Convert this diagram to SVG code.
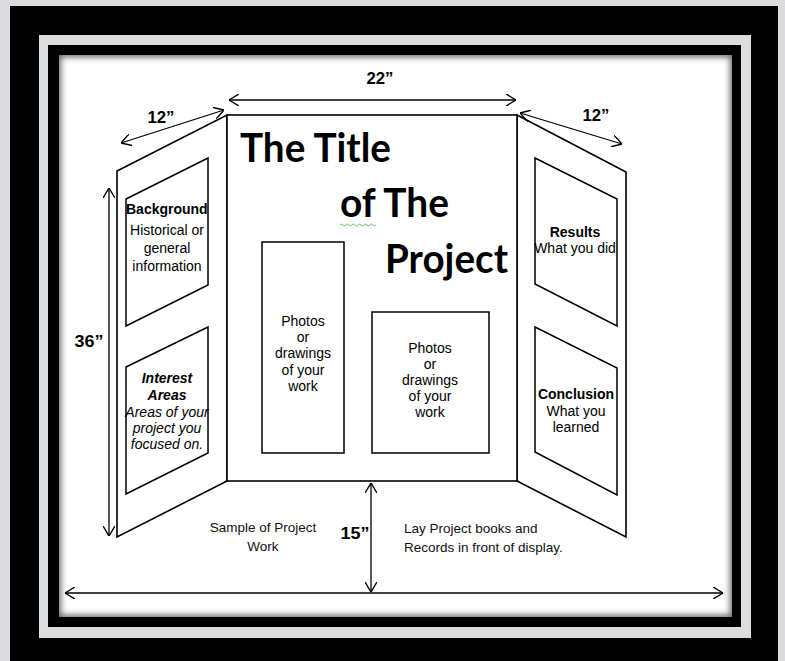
<svg xmlns="http://www.w3.org/2000/svg" width="785" height="661" viewBox="0 0 785 661">
<defs>
<marker id="ah" viewBox="0 0 10 12" refX="10" refY="6" markerWidth="10" markerHeight="12" markerUnits="userSpaceOnUse" orient="auto-start-reverse">
<path d="M0,0 L10,6 L0,12" fill="none" stroke="#000" stroke-width="1.4"/>
</marker>
<clipPath id="wclip"><rect x="59" y="55" width="673" height="562"/></clipPath>
<filter id="blur" x="-5%" y="-5%" width="110%" height="110%"><feGaussianBlur stdDeviation="3"/></filter>
<style>
.ln{fill:#fff;stroke:#000;stroke-width:1.6;stroke-linejoin:miter}
.bx{fill:#fff;stroke:#000;stroke-width:1.5}
.arr{fill:none;stroke:#000;stroke-width:1.3;marker-start:url(#ah);marker-end:url(#ah)}
.t{font-family:"Liberation Sans",Arial,sans-serif;font-size:14px;fill:#000;text-anchor:middle}
.b{font-weight:bold}
.i{font-style:italic}
.dim{font-family:"Liberation Sans",Arial,sans-serif;font-weight:bold;font-size:17px;text-anchor:middle;fill:#000}
.ttl{font-family:"Lato","Open Sans",sans-serif;font-weight:700;font-size:40px;fill:#000}
.note{font-family:"Liberation Sans",Arial,sans-serif;font-size:13.5px;fill:#111}
</style>
</defs>

<g id="frame">
<rect x="0" y="0" width="785" height="661" fill="#dcdcde"/>
<rect x="10" y="6" width="768" height="655" fill="#000"/>
<rect x="39" y="35" width="712" height="603" fill="#dcdddf"/>
<rect x="48" y="45" width="693" height="582" fill="#000"/>
<rect x="59" y="55" width="673" height="562" fill="#fff"/>
<g clip-path="url(#wclip)">
<rect x="57" y="53" width="677" height="566" fill="none" stroke="#666" stroke-width="8" filter="url(#blur)"/>
</g>
</g>

<g id="left-panel">
<polygon class="ln" points="117,171 227,115 227,481 117,537"/>
<g id="background-box">
<polygon class="bx" points="126,199 208,158 208,285 126,326"/>
<text class="t b" x="126" y="214" style="text-anchor:start">Background</text>
<text class="t" x="167" y="235">Historical or</text>
<text class="t" x="167" y="253">general</text>
<text class="t" x="167" y="271">information</text>
</g>
<g id="interest-box">
<polygon class="bx" points="126,367 208,327 208,453 126,494"/>
<text class="t b i" x="167" y="383">Interest</text>
<text class="t b i" x="167" y="400">Areas</text>
<text class="t i" x="167" y="417">Areas of your</text>
<text class="t i" x="167" y="433">project you</text>
<text class="t i" x="167" y="449">focused on.</text>
</g>
</g>

<g id="right-panel">
<polygon class="ln" points="517,115 626,172 626,537 517,481"/>
<g id="results-box">
<polygon class="bx" points="535,158 617,199 617,326 535,284"/>
<text class="t b" x="575" y="237">Results</text>
<text class="t" x="575" y="253">What you did</text>
</g>
<g id="conclusion-box">
<polygon class="bx" points="535,327 617,368 617,495 535,452"/>
<text class="t b" x="576" y="399">Conclusion</text>
<text class="t" x="576" y="416">What you</text>
<text class="t" x="576" y="432">learned</text>
</g>
</g>

<g id="center-panel">
<rect class="ln" x="227" y="115" width="290" height="366"/>
<text class="ttl" x="240" y="162" textLength="151" lengthAdjust="spacingAndGlyphs">The Title</text>
<text class="ttl" x="340" y="217" textLength="109" lengthAdjust="spacingAndGlyphs">of The</text>
<path d="M340,225 q1.5,-2 3,0 t3,0 t3,0 t3,0 t3,0 t3,0 t3,0 t3,0 t3,0 t3,0 t3,0 t3,0" fill="none" stroke="#5fae5f" stroke-width="0.9"/>
<text class="ttl" x="385" y="273" textLength="123" lengthAdjust="spacingAndGlyphs">Project</text>
<g id="photo-box-1">
<rect class="bx" x="262" y="242" width="82" height="211"/>
<text class="t" x="303" y="326">Photos</text>
<text class="t" x="303" y="342">or</text>
<text class="t" x="303" y="358">drawings</text>
<text class="t" x="303" y="375">of your</text>
<text class="t" x="303" y="391">work</text>
</g>
<g id="photo-box-2">
<rect class="bx" x="372" y="312" width="117" height="141"/>
<text class="t" x="430" y="353">Photos</text>
<text class="t" x="430" y="369">or</text>
<text class="t" x="430" y="385">drawings</text>
<text class="t" x="430" y="401">of your</text>
<text class="t" x="430" y="417">work</text>
</g>
</g>

<g id="connectors">
<line class="arr" x1="229" y1="100" x2="516" y2="100"/>
<line class="arr" x1="121" y1="143" x2="224" y2="110"/>
<line class="arr" x1="520" y1="113" x2="622" y2="144"/>
<line class="arr" x1="109" y1="188" x2="109" y2="536"/>
<line class="arr" x1="371" y1="483" x2="371" y2="592"/>
<line class="arr" x1="65" y1="593" x2="723" y2="593"/>
</g>

<g id="labels">
<text class="dim" x="380" y="84" textLength="27" lengthAdjust="spacingAndGlyphs">22”</text>
<text class="dim" x="161" y="123" textLength="27" lengthAdjust="spacingAndGlyphs">12”</text>
<text class="dim" x="596" y="121" textLength="27" lengthAdjust="spacingAndGlyphs">12”</text>
<text class="dim" x="89" y="347" textLength="29" lengthAdjust="spacingAndGlyphs">36”</text>
<text class="dim" x="355" y="539" textLength="29" lengthAdjust="spacingAndGlyphs">15”</text>
<text class="note" x="263" y="532" text-anchor="middle">Sample of Project</text>
<text class="note" x="263" y="551" text-anchor="middle">Work</text>
<text class="note" x="404" y="533">Lay Project books and</text>
<text class="note" x="404" y="552">Records in front of display.</text>
</g>
</svg>
